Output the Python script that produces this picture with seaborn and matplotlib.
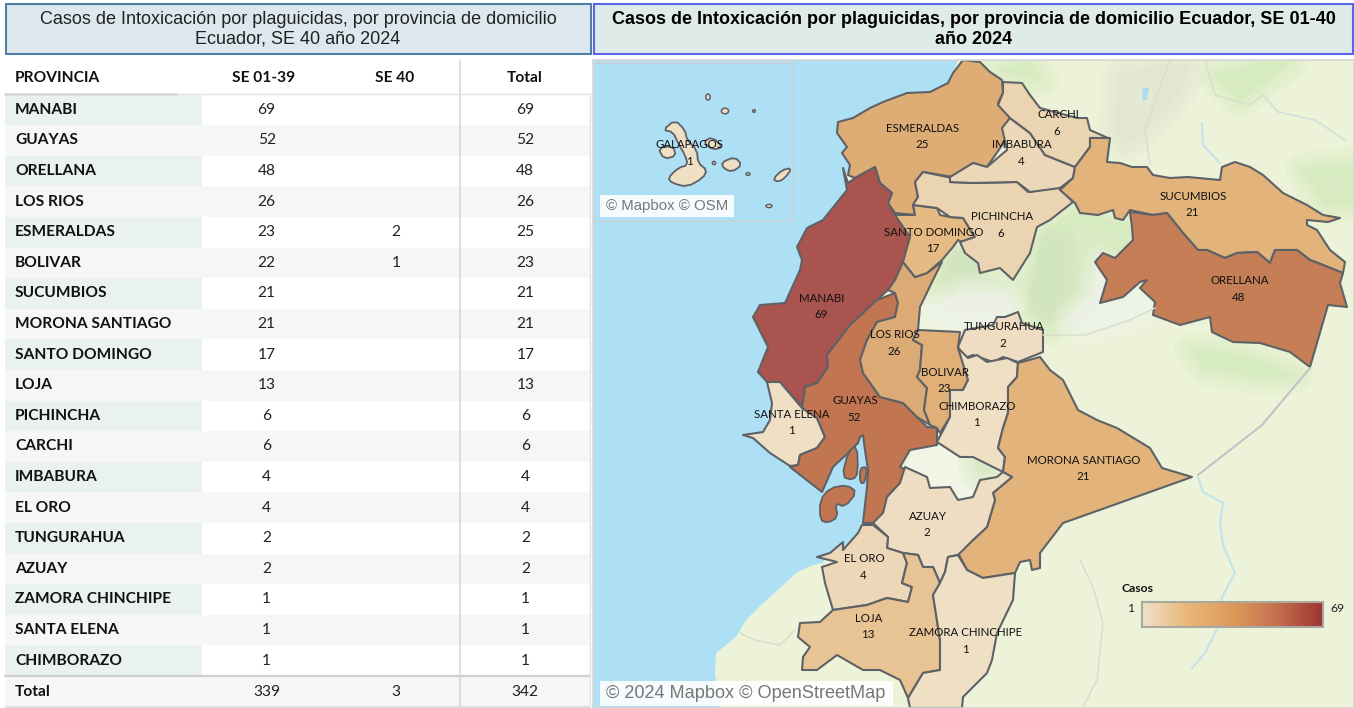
import numpy as np
import pandas as pd
import seaborn as sns
import matplotlib.pyplot as plt
from matplotlib.colors import ListedColormap, Normalize
from matplotlib.patches import Rectangle, Ellipse

# table
provincias = ["MANABI", "GUAYAS", "ORELLANA", "LOS RIOS", "ESMERALDAS", "BOLIVAR", "SUCUMBIOS",
              "MORONA SANTIAGO", "SANTO DOMINGO", "LOJA", "PICHINCHA", "CARCHI", "IMBABURA", "EL ORO",
              "TUNGURAHUA", "AZUAY", "ZAMORA CHINCHIPE", "SANTA ELENA", "CHIMBORAZO"]
se_01_39 = [69, 52, 48, 26, 23, 22, 21, 21, 17, 13, 6, 6, 4, 4, 2, 2, 1, 1, 1]
se_40 = [None, None, None, None, 2, 1, None, None, None, None, None, None, None, None, None, None, None, None, None]
total = [69, 52, 48, 26, 25, 23, 21, 21, 17, 13, 6, 6, 4, 4, 2, 2, 1, 1, 1]
fila_total = [339, 3, 342]
columnas = ["SE 01-39", "SE 40", "Total"]
galapagos_casos = 1

# province outlines, in map pixels
outlines = {
    "ESMERALDAS": [(838,122),(853,118),(870,108),(883,102),(907,93),(930,92),(948,83),(953,73),(963,60),(980,62),(990,72),(1002,80),(1003,93),(998,103),(1010,115),(1008,122),(1002,128),(1007,138),(987,167),(973,163),(953,177),(923,172),(915,182),(918,197),(913,205),(915,215),(895,213),(888,203),(892,193),(880,183),(875,167),(855,178),(848,175),(850,165),(842,153),(847,147),(837,133)],
    "MANABI": [(843,168),(848,183),(855,178),(875,167),(880,183),(892,193),(888,203),(895,215),(910,237),(903,262),(895,280),(888,290),(877,300),(850,325),(827,355),(828,367),(817,383),(805,387),(802,407),(780,382),(767,382),(758,372),(768,347),(753,317),(760,305),(785,303),(800,270),(802,260),(797,247),(807,228),(823,220),(847,190)],
    "SANTA ELENA": [(767,382),(780,382),(802,408),(817,418),(825,437),(817,448),(800,455),(798,465),(790,466),(770,453),(753,438),(743,435),(763,432),(770,420),(772,403)],
    "GUAYAS": [(802,408),(805,387),(817,383),(828,367),(827,355),(850,325),(877,300),(895,293),(898,303),(895,317),(877,322),(867,340),(860,360),(863,373),(880,397),(903,403),(917,417),(927,427),(937,428),(937,445),(910,450),(900,467),(907,470),(900,483),(887,497),(888,510),(875,523),(863,523),(867,487),(868,470),(865,450),(863,435),(860,437),(858,443),(848,453),(833,467),(822,492),(790,467),(798,465),(800,455),(817,448),(825,437),(817,418)],
    "LOS RIOS": [(903,262),(915,277),(927,273),(942,262),(933,280),(920,307),(918,330),(913,340),(922,345),(920,370),(917,377),(927,388),(924,410),(930,425),(917,417),(903,403),(880,397),(863,373),(860,360),(867,340),(877,322),(895,317),(898,303),(895,293),(888,290),(895,280)],
    "BOLIVAR": [(913,340),(918,330),(960,332),(958,348),(968,358),(968,380),(963,390),(950,390),(950,417),(940,433),(937,428),(930,425),(924,410),(927,388),(917,377),(920,370),(922,345)],
    "SANTO DOMINGO": [(895,215),(915,215),(913,205),(937,208),(940,215),(950,217),(963,218),(975,237),(962,242),(958,240),(953,247),(942,260),(927,273),(915,277),(903,262),(910,237)],
    "PICHINCHA": [(950,182),(973,183),(1017,182),(1028,192),(1058,187),(1073,202),(1050,220),(1037,227),(1030,253),(1013,280),(1000,268),(980,273),(978,263),(965,253),(960,242),(975,237),(963,218),(950,217),(937,208),(913,205),(918,197),(915,182),(923,172),(952,178)],
    "IMBABURA": [(950,177),(973,163),(987,167),(1007,150),(1002,128),(1010,118),(1030,133),(1045,155),(1075,167),(1073,178),(1060,188),(1030,192),(1017,182),(973,183),(950,182)],
    "CARCHI": [(1003,82),(1022,83),(1030,95),(1040,108),(1077,118),(1087,118),(1090,130),(1108,138),(1090,138),(1090,147),(1075,167),(1045,155),(1030,133),(1010,118),(998,105),(1003,93)],
    "SUCUMBIOS": [(1090,138),(1110,138),(1107,162),(1120,163),(1132,167),(1147,167),(1153,175),(1170,178),(1188,177),(1220,180),(1222,167),(1235,162),(1250,167),(1263,175),(1283,193),(1307,205),(1323,215),(1340,218),(1328,222),(1307,220),(1307,225),(1317,230),(1330,250),(1345,262),(1343,273),(1328,267),(1310,260),(1297,250),(1275,250),(1270,263),(1257,252),(1237,253),(1225,258),(1207,250),(1198,250),(1183,233),(1167,213),(1153,215),(1130,210),(1123,220),(1115,218),(1113,210),(1098,215),(1080,213),(1075,203),(1060,190),(1073,178),(1075,167),(1090,147)],
    "ORELLANA": [(1130,212),(1153,215),(1167,213),(1183,233),(1198,250),(1207,250),(1225,258),(1237,253),(1257,252),(1270,263),(1275,250),(1297,250),(1310,260),(1328,267),(1343,273),(1340,283),(1347,307),(1328,305),(1310,367),(1290,352),(1260,343),(1233,342),(1212,332),(1210,317),(1180,325),(1153,315),(1155,302),(1140,288),(1147,280),(1140,282),(1123,297),(1100,303),(1107,280),(1095,262),(1103,253),(1115,258),(1133,240),(1132,227)],
    "TUNGURAHUA": [(1018,312),(1022,323),(1043,330),(1043,352),(1018,362),(1003,357),(993,362),(973,355),(965,358),(958,347),(965,330),(993,325),(997,317),(1005,317)],
    "CHIMBORAZO": [(958,348),(968,358),(977,355),(987,362),(1007,358),(1018,363),(1017,377),(1008,387),(1008,413),(1003,428),(998,448),(1005,457),(1003,472),(983,462),(973,457),(960,457),(937,442),(950,417),(950,390),(963,390),(968,380)],
    "MORONA SANTIAGO": [(1018,363),(1040,357),(1050,370),(1063,380),(1078,410),(1097,420),(1117,428),(1150,448),(1162,468),(1192,477),(1080,517),(1063,523),(1040,553),(1040,568),(1032,570),(1030,560),(1020,562),(1015,573),(983,578),(967,570),(958,553),(973,540),(987,527),(995,500),(993,493),(1012,477),(1003,472),(1005,457),(998,448),(1003,428),(1008,413),(1008,387),(1017,377)],
    "AZUAY": [(905,467),(927,477),(930,488),(950,487),(958,500),(973,497),(980,480),(997,477),(1003,472),(1012,477),(993,493),(995,500),(987,527),(973,540),(958,555),(948,557),(945,572),(940,583),(933,567),(923,567),(918,555),(903,553),(887,548),(888,537),(873,523),(883,513),(887,497),(900,483)],
    "EL ORO": [(862,525),(873,525),(888,537),(887,548),(903,553),(907,563),(902,583),(912,587),(908,602),(887,598),(867,605),(833,610),(825,583),(822,567),(837,562),(817,557),(830,553),(843,542),(843,550),(858,533)],
    "LOJA": [(903,553),(918,555),(923,567),(933,567),(940,583),(933,595),(940,640),(940,670),(923,673),(908,698),(900,680),(880,670),(863,670),(837,655),(817,670),(802,670),(803,657),(810,647),(798,637),(800,623),(820,622),(833,610),(867,605),(887,598),(908,602),(912,587),(902,583),(907,563)],
    "ZAMORA CHINCHIPE": [(940,583),(945,572),(948,557),(958,555),(967,570),(983,578),(1015,573),(1013,600),(997,633),(992,660),(987,673),(963,697),(962,708),(910,708),(908,698),(923,673),(940,670),(940,640),(933,595)],
}
guayas_islas = [
    [(820,520),(820,500),(830,488),(847,485),(857,492),(845,507),(835,503),(838,517),(828,523)],
    [(848,452),(857,445),(858,473),(853,480),(842,477)],
    [(860,468),(867,467),(865,483),(860,483)],
]
galapagos_islas = [
    [(663,130),(675,120),(685,130),(687,140),(697,150),(698,163),(707,170),(703,178),(687,187),(672,183),(668,178),(678,168),(688,165),(685,155),(678,143),(673,132)],
    [(658,148),(673,146),(676,156),(664,159)],
    [(703,142),(712,137),(723,147),(713,150)],
    [(722,162),(735,157),(742,165),(732,172),(723,168)],
    [(773,179),(782,170),(792,168),(785,178),(778,182)],
]
galapagos_islotes = [(708,97,2.2,3), (725,111,3.6,2.8), (754,111,1.3,1.3), (714,163,1.6,1.6), (748,174,2,1.4), (769,206,3,1.6)]
oceano = [(593,60),(958,60),(953,73),(948,83),(930,92),(907,93),(883,102),(870,108),(853,118),(838,122),(837,133),(847,147),(842,153),(850,165),(848,175),(843,168),(847,190),(823,220),(807,228),(797,247),(802,260),(800,270),(785,303),(760,305),(753,317),(768,347),(758,370),(767,382),(772,403),(770,420),(763,432),(743,435),(753,438),(770,453),(790,467),(822,492),(833,467),(848,453),(858,443),(860,437),(863,435),(865,450),(868,470),(867,487),(863,523),(862,525),(858,533),(843,550),(830,553),(823,563),(813,565),(796,573),(778,590),(763,603),(746,620),(736,637),(716,653),(715,673),(720,708),(593,708)]

# terrain behind the provinces
verde = [
    [(1045,230),(1075,212),(1113,222),(1128,222),(1128,245),(1100,258),(1090,290),(1065,318),(1050,328),(1025,312),(1035,270)],
    [(945,262),(960,250),(980,275),(1010,285),(1005,296),(965,300),(935,290)],
    [(1303,170),(1354,165),(1354,205),(1325,205)],
    [(1192,350),(1240,355),(1295,375),(1270,378),(1205,368)],
    [(1215,75),(1265,62),(1290,62),(1240,100)],
    [(1000,70),(1030,62),(1040,80)],
]
verde_oscuro = [
    [(1050,245),(1062,245),(1062,285),(1050,308),(1040,300)],
    [(960,262),(968,262),(972,285),(958,285)],
]
palido = [
    [(965,290),(1005,296),(1012,305),(1000,320),(950,325),(930,312)],
    [(1100,262),(1092,300),(1070,320),(1085,330),(1130,318),(1150,310),(1135,290)],
]
relieve = [
    [(1120,75),(1165,64),(1190,64),(1180,90),(1150,125),(1125,145),(1115,130)],
]
canar = [(905,467),(915,447),(937,442),(960,457),(983,462),(1003,472),(980,480),(973,497),(958,500),(950,487),(930,488),(927,477)]
canar_verde = [(975,461),(990,463),(992,472),(980,474)]
rio = [(1198,477),(1203,492),(1223,503),(1220,523),(1223,545),(1235,573),(1222,597),(1218,627),(1205,653),(1192,668)]
rio_norte = [(1202,123),(1203,145),(1220,163)]
rio_colombia = [(1263,95),(1278,112),(1315,120),(1345,140)]
lago = [(1143,88),(1149,88),(1147,100),(1142,100)]
frontera = [(1310,368),(1262,425),(1198,475)]
trazos = [
    [(1080,560),(1093,587),(1103,623),(1097,680),(1083,707)],
    [(1205,60),(1215,95),(1250,105),(1263,95)],
    [(1043,335),(1085,335),(1130,320),(1155,308)],
    [(1170,60),(1155,100),(1145,130),(1150,165)],
    [(740,633),(755,640),(780,645),(795,630)],
]

etiquetas = {
    "GALAPAGOS": (690, 145), "ESMERALDAS": (923, 128), "CARCHI": (1058, 115), "IMBABURA": (1022, 145),
    "SUCUMBIOS": (1193, 196), "PICHINCHA": (1002, 217), "SANTO DOMINGO": (934, 232), "ORELLANA": (1240, 281),
    "MANABI": (822, 298), "LOS RIOS": (895, 335), "TUNGURAHUA": (1004, 327), "BOLIVAR": (945, 372),
    "GUAYAS": (855, 401), "SANTA ELENA": (792, 414), "CHIMBORAZO": (977, 406), "MORONA SANTIAGO": (1084, 460),
    "AZUAY": (928, 516), "EL ORO": (864, 559), "LOJA": (869, 618), "ZAMORA CHINCHIPE": (966, 633),
}

sns.set_theme(style="white")
plt.rcParams['font.family'] = ['Lato', 'DejaVu Sans']

W, H = 1354, 708
fig = plt.figure(figsize=(W / 100, H / 100), dpi=100, facecolor="white")


def px_axes(x0, y0, x1, y1, zorder=1):
    return fig.add_axes([x0 / W, 1 - y1 / H, (x1 - x0) / W, (y1 - y0) / H], zorder=zorder)


# page layer with title boxes and table rules
page = px_axes(0, 0, W, H, zorder=0)
page.set_xlim(0, W)
page.set_ylim(H, 0)
page.axis("off")
page.add_patch(Rectangle((5.5, 3.5), 585, 50, fc="#DCE8EE", ec="#4F7FA6", lw=1.5))
page.add_patch(Rectangle((593.5, 3.5), 759, 50, fc="#DFEBE8", ec="#5A66E8", lw=1.5))
page.text(298, 19.5, "Casos de Intoxicación por plaguicidas, por provincia de domicilio", ha="center", va="center",
          fontsize=13, family="Liberation Sans", color="#222222")
page.text(298, 39.5, "Ecuador, SE 40 año 2024", ha="center", va="center",
          fontsize=13, family="Liberation Sans", color="#222222")
page.text(974, 19.5, "Casos de Intoxicación por plaguicidas, por provincia de domicilio Ecuador, SE 01-40",
          ha="center", va="center", fontsize=13, fontweight="bold", family="Liberation Sans", color="black")
page.text(974, 40, "año 2024", ha="center", va="center", fontsize=13, fontweight="bold",
          family="Liberation Sans", color="black")

font_tabla = 11.2
page.text(15, 77.5, "PROVINCIA", ha="left", va="center", fontsize=font_tabla, fontweight="bold", color="#111111")
for nombre, cx in zip(columnas, [264, 395, 525]):
    page.text(cx, 77.5, nombre, ha="center", va="center", fontsize=font_tabla, fontweight="bold", color="#111111")

# striped body of the table
n = len(provincias)
bandas = np.array([[i % 2] for i in range(n)])
ax_nom = px_axes(5, 94.5, 202, 676)
sns.heatmap(bandas, ax=ax_nom, cmap=ListedColormap(["#E9F2F0", "#F6F6F6"]), cbar=False,
            xticklabels=False, yticklabels=False, vmin=0, vmax=1)
for i, p in enumerate(provincias):
    ax_nom.text(10 / 197, i + 0.5, p, ha="left", va="center", fontsize=font_tabla, fontweight="bold", color="#111111")

tabla = pd.DataFrame({"SE 01-39": se_01_39, "SE 40": se_40, "Total": total}, index=provincias)
anot = tabla.map(lambda v: "" if pd.isna(v) else str(int(v))).values
ax_val = px_axes(202, 94.5, 590, 676)
sns.heatmap(np.repeat(bandas, 3, axis=1), ax=ax_val, cmap=ListedColormap(["white", "#F6F6F6"]), cbar=False,
            annot=anot, fmt="", annot_kws={"fontsize": font_tabla, "color": "#222222"},
            xticklabels=False, yticklabels=False, vmin=0, vmax=1)

ax_tot = px_axes(202, 677, 590, 706)
sns.heatmap(np.ones((1, 3)), ax=ax_tot, cmap=ListedColormap(["#F6F6F6"]), cbar=False,
            annot=np.array([[str(v) for v in fila_total]]), fmt="",
            annot_kws={"fontsize": font_tabla, "color": "#222222"},
            xticklabels=False, yticklabels=False)
page.add_patch(Rectangle((5, 677), 197, 29, fc="#F6F6F6", ec="none"))
page.text(15, 692.5, "Total", ha="left", va="center", fontsize=font_tabla, fontweight="bold", color="#111111")

rules = px_axes(0, 0, W, H, zorder=3)
rules.set_xlim(0, W)
rules.set_ylim(H, 0)
rules.axis("off")
rules.plot([5, 177], [93.5, 93.5], color="#D9D9D9", lw=2)
rules.plot([177, 590], [93.5, 93.5], color="#E3E3E3", lw=1)
rules.plot([5, 590], [676, 676], color="#D0D0D0", lw=1.6)
rules.plot([5, 590], [706.5, 706.5], color="#D9D9D9", lw=1.2)
rules.plot([460, 460], [60, 706], color="#D5D5D5", lw=1.1)
rules.plot([590, 590], [93, 706], color="#E3E3E3", lw=1)

# map
ax = px_axes(593, 60, W, H, zorder=2)
ax.set_xlim(593, W)
ax.set_ylim(H, 60)
ax.set_xticks([])
ax.set_yticks([])
ax.set_facecolor("#EDF3D8")
for s in ax.spines.values():
    s.set_color("#D6D6D6")
    s.set_linewidth(1.2)


def fill(poly, **kw):
    ax.fill([p[0] for p in poly], [p[1] for p in poly], **kw)


def soft(poly, color):
    # wide strokes at low alpha give the blurry edge of the basemap
    for lw in [26, 19, 13, 7, 2]:
        fill(poly, fc=color, ec=color, lw=lw, alpha=0.22, joinstyle="round")


def round_corners(poly):
    out = []
    for a, b in zip(poly, poly[1:] + poly[:1]):
        out.append((0.75 * a[0] + 0.25 * b[0], 0.75 * a[1] + 0.25 * b[1]))
        out.append((0.25 * a[0] + 0.75 * b[0], 0.25 * a[1] + 0.75 * b[1]))
    return out


for poly in verde:
    soft(poly, "#D6EBC0")
for poly in relieve:
    soft(poly, "#E3E7D2")
for poly in verde_oscuro:
    soft(poly, "#D0E4BE")
for poly in palido:
    soft(poly, "#F1F4EA")
fill(canar, fc="#F0F5E6", ec="none")
soft(canar_verde, "#D9EBC6")
fill(oceano, fc="#AEE0F5", ec="none")
for linea in trazos:
    ax.plot([p[0] for p in linea], [p[1] for p in linea], color="#DADDCF", lw=1.1, solid_capstyle="round")
ax.plot([p[0] for p in frontera], [p[1] for p in frontera], color="#C2C3C6", lw=1.5)
for linea in [rio, rio_norte]:
    ax.plot([p[0] for p in linea], [p[1] for p in linea], color="#C2E3EC", lw=1.5)
ax.plot([p[0] for p in rio_colombia], [p[1] for p in rio_colombia], color="#D2E2DC", lw=1.3)
fill(lago, fc="#AEDCEF", ec="none")

paleta = sns.blend_palette(["#EFE0C8", "#E8B677", "#DC9A5A", "#C4704F", "#9E3532"], n_colors=256, as_cmap=True)
paleta_mapa = sns.blend_palette(["#EEDFC5", "#E5B87F", "#D39B67", "#C17551", "#A9544F"], n_colors=256, as_cmap=True)
norm = Normalize(1, 69)
casos = dict(zip(provincias, total))
casos["GALAPAGOS"] = galapagos_casos
borde = "#5E6266"


def color_de(nombre):
    return paleta_mapa(norm(casos[nombre]))


for nombre, poly in outlines.items():
    fill(poly, fc=color_de(nombre), ec=borde, lw=1.5, joinstyle="round")
for poly in guayas_islas:
    fill(round_corners(poly), fc=color_de("GUAYAS"), ec=borde, lw=1.3, joinstyle="round")

# galapagos inset
ax.add_patch(Rectangle((593, 63), 200, 158, fc="none", ec="#C8D2D8", lw=1.2))
for poly in galapagos_islas:
    fill(round_corners(poly), fc=color_de("GALAPAGOS"), ec=borde, lw=1.3, joinstyle="round")
for cx, cy, rx, ry in galapagos_islotes:
    ax.add_patch(Ellipse((cx, cy), 2 * rx, 2 * ry, fc=color_de("GALAPAGOS"), ec=borde, lw=1.1))

for nombre, (cx, cy) in etiquetas.items():
    ax.text(cx, cy, nombre, ha="center", va="center", fontsize=8.3, color="#111111", zorder=6)
    ax.text(cx - 1, cy + 16.5, str(casos[nombre]), ha="center", va="center", fontsize=8.3, color="#111111", zorder=6)

ax.add_patch(Rectangle((600, 195), 134, 22, fc="white", ec="none", alpha=0.9, zorder=7))
ax.text(606, 206, "© Mapbox © OSM", ha="left", va="center", fontsize=10.8, color="#777777",
        family="Liberation Sans", zorder=8)
ax.add_patch(Rectangle((600, 681), 293, 25, fc="white", ec="none", alpha=0.9, zorder=7))
ax.text(606, 694, "© 2024 Mapbox © OpenStreetMap", ha="left", va="center", fontsize=13.05, color="#777777",
        family="Liberation Sans", zorder=8)

# legend
ax.text(1122, 588, "Casos", ha="left", va="center", fontsize=8.8, fontweight="bold", color="#111111")
ax.text(1131, 608, "1", ha="center", va="center", fontsize=8.8, color="#222222")
ax.text(1337, 608, "69", ha="center", va="center", fontsize=8.8, color="#222222")
ax_ley = px_axes(1142, 602, 1323, 627, zorder=5)
sns.heatmap(np.arange(1, 70).reshape(1, -1), ax=ax_ley, cmap=paleta, vmin=1, vmax=69, cbar=False,
            xticklabels=False, yticklabels=False, linewidths=0, rasterized=True)
for s in ax_ley.spines.values():
    s.set_visible(True)
    s.set_color("#A8A89E")
    s.set_linewidth(1.5)

fig.savefig("out.png", dpi=100)
